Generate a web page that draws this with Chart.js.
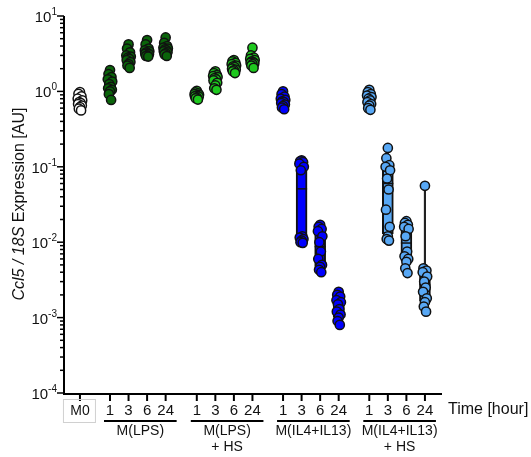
<!DOCTYPE html>
<html>
<head>
<meta charset="utf-8">
<script src="https://cdn.jsdelivr.net/npm/chart.js@4.4.0/dist/chart.umd.min.js"></script>
<style>
  html, body { margin: 0; padding: 0; background: #fff; }
</style>
</head>
<body>
<canvas id="ccl5Chart" width="531" height="457"></canvas>
<script>
// Ccl5 / 18S expression, one array of replicates per time point
const timeLabels = ['1', '3', '6', '24'];
const groupNames = ['M0', 'M(LPS)', 'M(LPS)\n+ HS', 'M(IL4+IL13)', 'M(IL4+IL13)\n+ HS'];

const m0Values = [[0.98, 0.93, 0.86, 0.8, 0.76, 0.72, 0.7, 0.68, 0.65, 0.62, 0.59, 0.56]];
const lpsValues = [
  [1.92, 1.7, 1.55, 1.45, 1.35, 1.25, 1.15, 1.1, 1.05, 1.0, 0.92, 0.77],
  [4.2, 3.7, 3.3, 3.0, 2.9, 2.8, 2.7, 2.6, 2.45, 2.3, 2.2, 2.05],
  [4.8, 4.2, 3.7, 3.5, 3.4, 3.3, 3.2, 3.15, 3.1, 3.0, 2.95, 2.9],
  [5.2, 4.4, 4.0, 3.8, 3.7, 3.6, 3.5, 3.4, 3.3, 3.2, 3.1, 2.95],
];
const lpsHsValues = [
  [1.02, 0.97, 0.94, 0.92, 0.9, 0.88, 0.87, 0.86, 0.85, 0.83, 0.81, 0.78],
  [1.85, 1.75, 1.65, 1.6, 1.55, 1.5, 1.45, 1.4, 1.3, 1.2, 1.1, 1.05],
  [2.6, 2.5, 2.4, 2.3, 2.2, 2.15, 2.1, 2.0, 1.95, 1.9, 1.85, 1.75],
  [3.8, 3.0, 2.8, 2.7, 2.6, 2.5, 2.45, 2.4, 2.35, 2.3, 2.2, 2.05],
];
const il4Values = [
  [1.0, 0.92, 0.85, 0.8, 0.77, 0.74, 0.72, 0.7, 0.67, 0.64, 0.61, 0.58],
  [0.122, 0.118, 0.115, 0.11, 0.1, 0.09, 0.012, 0.0115, 0.011, 0.0105, 0.01, 0.0098],
  [0.017, 0.016, 0.015, 0.014, 0.012, 0.01, 0.0075, 0.006, 0.005, 0.0047, 0.0043, 0.004],
  [0.0022, 0.002, 0.0019, 0.0017, 0.0016, 0.0015, 0.0013, 0.0012, 0.0011, 0.001, 0.0009, 0.0008],
];
const il4HsValues = [
  [1.05, 0.98, 0.92, 0.88, 0.84, 0.8, 0.76, 0.72, 0.68, 0.65, 0.6, 0.57],
  [0.178, 0.13, 0.105, 0.1, 0.09, 0.07, 0.05, 0.027, 0.016, 0.012, 0.011, 0.0105],
  [0.019, 0.018, 0.017, 0.016, 0.015, 0.012, 0.0075, 0.0065, 0.006, 0.0055, 0.0045, 0.0039],
  [0.056, 0.0045, 0.0042, 0.004, 0.0035, 0.003, 0.0025, 0.0022, 0.0018, 0.0016, 0.0014, 0.0012],
];

const allGroups = [m0Values, lpsValues, lpsHsValues, il4Values, il4HsValues];
const groupColors = ['#ffffff', '#0a640a', '#1ec81e', '#0000ff', '#58a8f5'];
// where each group starts on the x axis (one unit per time point)
const groupStart = [0, 1.62, 6.3, 10.95, 15.6];
const jitter = [0, -0.08, 0.08, -0.12, 0.12, -0.04, 0.04, -0.1, 0.1, 0, -0.06, 0.06];

function quantile(sorted, p) {
  const pos = p * (sorted.length + 1) - 1;
  if (pos <= 0) return sorted[0];
  if (pos >= sorted.length - 1) return sorted[sorted.length - 1];
  const lo = Math.floor(pos);
  return sorted[lo] + (pos - lo) * (sorted[lo + 1] - sorted[lo]);
}

const whiskers = [], boxes = [], medians = [], boxColors = [], tickX = [];
const pointSets = [];
allGroups.forEach((group, g) => {
  const pts = [];
  group.forEach((vals, t) => {
    const x = groupStart[g] + t;
    tickX.push(x);
    const s = [...vals].sort((a, b) => a - b);
    whiskers.push({ x: x, y: [s[0], s[s.length - 1]] });
    boxes.push({ x: x, y: [quantile(s, 0.25), quantile(s, 0.75)] });
    boxColors.push(groupColors[g]);
    medians.push({ x: x, y: quantile(s, 0.5) });
    vals.forEach((v, i) => pts.push({ x: x + jitter[i % jitter.length], y: v }));
  });
  pointSets.push(pts);
});

const FONT = '"Liberation Sans", Arial, sans-serif';

const axesPlugin = {
  id: 'axesPlugin',
  beforeDatasetsDraw(chart) {
    const ctx = chart.ctx;
    const xs = chart.scales.x, ys = chart.scales.y;
    const area = chart.chartArea;
    ctx.save();
    ctx.strokeStyle = '#000';
    ctx.fillStyle = '#111';
    ctx.lineWidth = 2;
    // axis lines
    ctx.beginPath();
    ctx.moveTo(area.left, area.top);
    ctx.lineTo(area.left, area.bottom + 1);
    ctx.lineTo(area.right, area.bottom + 1);
    ctx.stroke();

    // y ticks
    ctx.lineWidth = 1.5;
    for (let e = -4; e <= 1; e++) {
      const y = ys.getPixelForValue(Math.pow(10, e));
      ctx.beginPath();
      ctx.moveTo(area.left - 7, y);
      ctx.lineTo(area.left, y);
      ctx.stroke();
      if (e < 1) {
        for (let m = 2; m <= 9; m++) {
          const ym = ys.getPixelForValue(m * Math.pow(10, e));
          ctx.beginPath();
          ctx.moveTo(area.left - 4, ym);
          ctx.lineTo(area.left, ym);
          ctx.stroke();
        }
      }
      // label 10^e
      const expText = e < 0 ? '-' + Math.abs(e) : String(e);
      ctx.font = '10px ' + FONT;
      const expW = ctx.measureText(expText).width;
      const right = area.left - 7;
      ctx.textBaseline = 'alphabetic';
      ctx.textAlign = 'left';
      ctx.fillText(expText, right - expW, y - 1);
      ctx.font = '15px ' + FONT;
      ctx.textAlign = 'right';
      ctx.fillText('10', right - expW, y + 6);
    }

    // y title with italic gene names
    ctx.save();
    ctx.translate(24, 204);
    ctx.rotate(-Math.PI / 2);
    const parts = [['italic 16px ' + FONT, 'Ccl5 / 18S'], ['16px ' + FONT, ' Expression [AU]']];
    let total = 0;
    parts.forEach(p => { ctx.font = p[0]; total += ctx.measureText(p[1]).width; });
    let cx = -total / 2;
    ctx.textAlign = 'left';
    ctx.textBaseline = 'alphabetic';
    parts.forEach(p => { ctx.font = p[0]; ctx.fillText(p[1], cx, 0); cx += ctx.measureText(p[1]).width; });
    ctx.restore();

    // x ticks and labels
    ctx.lineWidth = 2;
    ctx.textAlign = 'center';
    ctx.textBaseline = 'middle';
    let k = 0;
    allGroups.forEach((group, g) => {
      group.forEach((vals, t) => {
        const px = xs.getPixelForValue(tickX[k++]);
        ctx.beginPath();
        ctx.moveTo(px, area.bottom);
        ctx.lineTo(px, area.bottom + 8);
        ctx.stroke();
        if (g > 0) {
          ctx.font = '15px ' + FONT;
          ctx.fillText(timeLabels[t], px, 411);
        }
      });
      if (g === 0) {
        const px = xs.getPixelForValue(groupStart[0]);
        ctx.save();
        ctx.strokeStyle = '#d0d0d0';
        ctx.lineWidth = 1;
        ctx.strokeRect(px - 16.5, 399.5, 32, 23);
        ctx.restore();
        ctx.font = '14px ' + FONT;
        ctx.fillText('M0', px, 411);
      } else {
        const x1 = xs.getPixelForValue(groupStart[g]) - 6;
        const x2 = xs.getPixelForValue(groupStart[g] + 3) + 11;
        ctx.beginPath();
        ctx.moveTo(x1, 421);
        ctx.lineTo(x2, 421);
        ctx.stroke();
        ctx.font = '14px ' + FONT;
        const lines = groupNames[g].split('\n');
        lines.forEach((ln, i) => ctx.fillText(ln, (x1 + x2) / 2, 431 + i * 16));
      }
    });
    ctx.font = '16px ' + FONT;
    ctx.textAlign = 'left';
    ctx.fillText('Time [hour]', 448, 410);
    ctx.restore();
  }
};

const datasets = [];
pointSets.forEach((pts, g) => {
  datasets.push({
    type: 'scatter',
    data: pts,
    order: 0,
    pointRadius: 4.6,
    pointBorderWidth: 1.5,
    pointBorderColor: '#111',
    pointBackgroundColor: groupColors[g],
  });
});
datasets.push({
  type: 'scatter',
  data: medians,
  order: 1,
  pointStyle: 'line',
  pointRadius: 5.5,
  pointBorderWidth: 1.5,
  pointBorderColor: '#111',
});
datasets.push({
  type: 'bar',
  data: boxes,
  order: 2,
  grouped: false,
  barThickness: 11,
  backgroundColor: boxColors,
  borderColor: '#111',
  borderWidth: 2,
  borderSkipped: false,
});
datasets.push({
  type: 'bar',
  data: whiskers,
  order: 3,
  grouped: false,
  barThickness: 1.5,
  backgroundColor: '#222',
  borderWidth: 0,
});

new Chart(document.getElementById('ccl5Chart'), {
  type: 'bar',
  data: { datasets: datasets },
  options: {
    responsive: false,
    animation: false,
    layout: { padding: { left: 64, right: 89, top: 16, bottom: 64 } },
    plugins: {
      legend: { display: false },
      tooltip: { enabled: false },
    },
    scales: {
      x: {
        type: 'linear',
        display: false,
        offset: false,
        min: -0.86,
        max: 19.52,
      },
      y: {
        type: 'logarithmic',
        display: false,
        min: 0.0001,
        max: 10,
      },
    },
  },
  plugins: [axesPlugin],
});
</script>
</body>
</html>
